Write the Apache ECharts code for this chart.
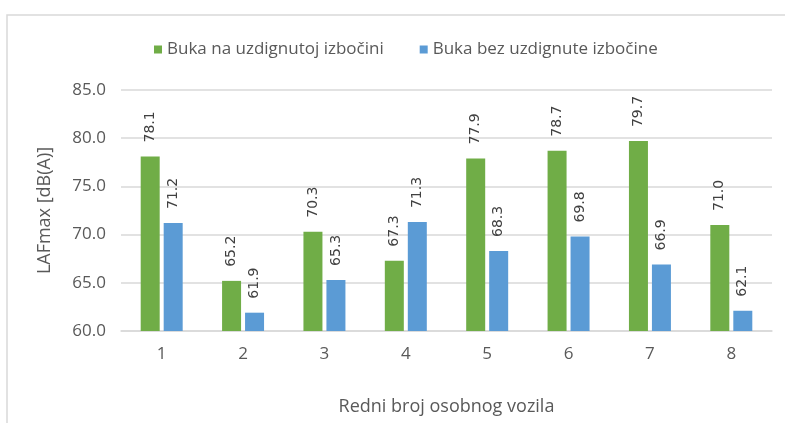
<!DOCTYPE html>
<html>
<head>
<meta charset="utf-8">
<script src="https://cdn.jsdelivr.net/npm/echarts@6/dist/echarts.min.js"></script>
<style>
  html, body { margin: 0; padding: 0; background: #fff; }
  #chart { width: 785px; height: 423px; }
</style>
</head>
<body>
<div id="chart"></div>
<script>
// podaci ocitani s grafa
var vozila = ['1', '2', '3', '4', '5', '6', '7', '8'];
var buka_na_izbocini = [78.1, 65.2, 70.3, 67.3, 77.9, 78.7, 79.7, 71.0];
var buka_bez_izbocine = [71.2, 61.9, 65.3, 71.3, 68.3, 69.8, 66.9, 62.1];

var chart = echarts.init(document.getElementById('chart'));

// zajednicki stil oznaka vrijednosti
function data_label() {
    return {
        show: true,
        position: 'top',
        rotate: 90,
        align: 'left',
        verticalAlign: 'middle',
        distance: 14,
        fontFamily: 'DejaVu Sans',
        fontSize: 14,
        color: '#404040',
        formatter: function (p) {
            return p.value.toFixed(1);
        }
    };
}

var option = {
    animation: false,
    textStyle: { fontFamily: 'Open Sans' },
    graphic: [{
        type: 'rect',
        shape: { x: 7, y: 15, width: 900, height: 500 },
        style: { fill: 'none', stroke: '#d9d9d9', lineWidth: 1.5 },
        silent: true
    }],
    legend: {
        top: 36,
        left: 149,
        itemWidth: 8,
        itemHeight: 8,
        itemGap: 36,
        icon: 'rect',
        textStyle: { fontSize: 17, color: '#595959', fontFamily: 'Open Sans' },
        data: ['Buka na uzdignutoj izbočini', 'Buka bez uzdignute izbočine']
    },
    grid: {
        left: 121,
        right: 13,
        top: 90,
        bottom: 92,
        containLabel: false
    },
    xAxis: {
        type: 'category',
        data: vozila,
        name: 'Redni broj osobnog vozila',
        nameLocation: 'middle',
        nameGap: 67,
        nameTextStyle: { fontSize: 18, color: '#595959' },
        axisLine: { lineStyle: { color: '#d9d9d9', width: 1.5 } },
        axisTick: { show: false },
        axisLabel: { fontSize: 17, color: '#595959', margin: 15 }
    },
    yAxis: {
        type: 'value',
        min: 60,
        max: 85,
        interval: 5,
        name: 'LAFmax [dB(A)]',
        nameLocation: 'middle',
        nameGap: 67,
        nameTextStyle: { fontSize: 18, color: '#595959' },
        axisLine: { show: false },
        axisTick: { show: false },
        axisLabel: {
            fontSize: 17,
            color: '#595959',
            margin: 15,
            formatter: function (v) { return v.toFixed(1); }
        },
        splitLine: { lineStyle: { color: '#d9d9d9', width: 1.5 } }
    },
    series: [
        {
            name: 'Buka na uzdignutoj izbočini',
            type: 'bar',
            data: buka_na_izbocini,
            barWidth: 19,
            barGap: '21%',
            itemStyle: { color: '#70ad47' },
            label: data_label()
        },
        {
            name: 'Buka bez uzdignute izbočine',
            type: 'bar',
            data: buka_bez_izbocine,
            barWidth: 19,
            itemStyle: { color: '#5b9bd5' },
            label: data_label()
        }
    ]
};

chart.setOption(option);
</script>
</body>
</html>
